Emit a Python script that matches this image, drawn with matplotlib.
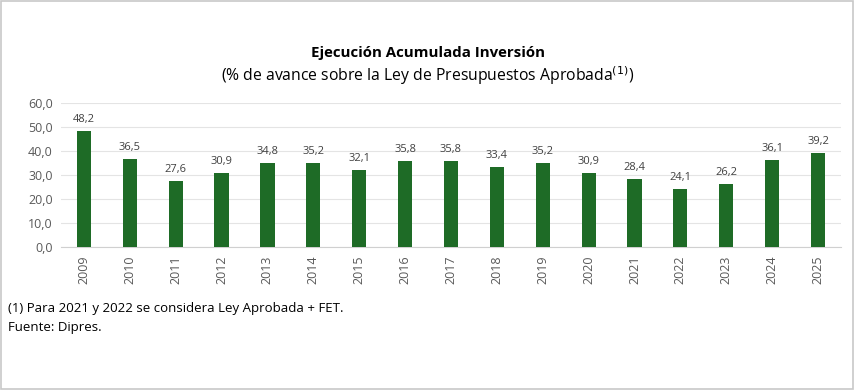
import matplotlib
matplotlib.use("Agg")
import matplotlib.pyplot as plt
from matplotlib.patches import Rectangle

years = ["2009", "2010", "2011", "2012", "2013", "2014", "2015", "2016", "2017",
         "2018", "2019", "2020", "2021", "2022", "2023", "2024", "2025"]
avance = [48.2, 36.5, 27.6, 30.9, 34.8, 35.2, 32.1, 35.8, 35.8,
          33.4, 35.2, 30.9, 28.4, 24.1, 26.2, 36.1, 39.2]
y_ticks = [0, 10, 20, 30, 40, 50, 60]

plt.rcParams['font.family'] = ['Open Sans', 'DejaVu Sans']

fig = plt.figure(figsize=(8.55, 3.9), dpi=100)
ax = fig.add_axes([0.0713, 0.3667, 0.9123, 0.3692])

x = list(range(len(years)))
ax.bar(x, avance, width=0.31, color="#1E6B26", zorder=3)
for xi, v in zip(x, avance):
    ax.text(xi, v + 2.5, f"{v:.1f}".replace(".", ","), ha="center", va="bottom",
            fontsize=8, color="#404040")

ax.set_xlim(-0.5, len(years) - 0.5)
ax.set_ylim(0, 60)
ax.set_yticks(y_ticks)
ax.set_yticklabels([f"{t:.1f}".replace(".", ",") for t in y_ticks], fontsize=9, color="#595959")
ax.set_xticks(x)
ax.set_xticklabels(years, rotation=90, fontsize=9, color="#595959")
ax.tick_params(length=0, pad=6)
ax.grid(axis="y", color="#E4E4E4", linewidth=0.8, zorder=0)
for s in ["top", "right", "left"]:
    ax.spines[s].set_visible(False)
ax.spines["bottom"].set_color("#D0D0D0")

fig.text(0.5, 0.865, "Ejecución Acumulada Inversión", ha="center", va="center",
         fontsize=10.8, fontweight="bold", color="black")
fig.text(0.5, 0.806, "(% de avance sobre la Ley de Presupuestos Aprobada$^{(1)}$)",
         ha="center", va="center", fontsize=11.3, color="black")

fig.text(0.009, 0.208, "(1) Para 2021 y 2022 se considera Ley Aprobada + FET.",
         ha="left", va="center", fontsize=9.5, color="black")
fig.text(0.009, 0.16, "Fuente: Dipres.", ha="left", va="center", fontsize=9.5, color="black")

fig.patches.append(Rectangle((0.001, 0.002), 0.997, 0.995, transform=fig.transFigure,
                             fill=False, edgecolor="#C8C8C8", linewidth=1.2))

fig.savefig("out.png", dpi=100)
